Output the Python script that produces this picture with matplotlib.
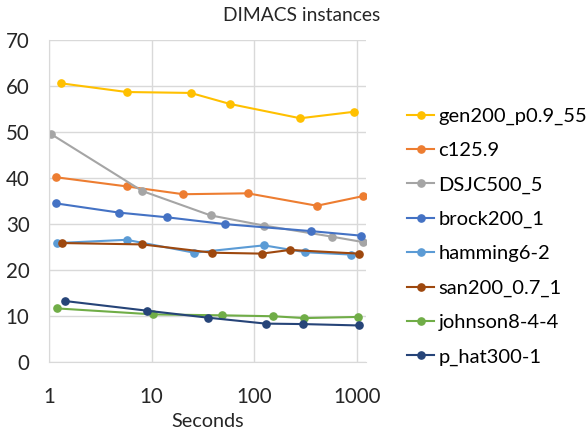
import numpy as np
from matplotlib import pyplot as plt

plt.rcParams['font.family'] = ['Lato', 'DejaVu Sans']

# instancias y tiempos (segundos)
nombres = ["gen200_p0.9_55", "c125.9", "DSJC500_5", "brock200_1",
           "hamming6-2", "san200_0.7_1", "johnson8-4-4", "p_hat300-1"]
colores = ["#FFC000", "#ED7D31", "#A5A5A5", "#4472C4",
           "#5B9BD5", "#9E480E", "#70AD47", "#264478"]

t_gen = [1.3, 5.7, 24, 58, 280, 930]
v_gen = [60.6, 58.7, 58.5, 56.1, 53.0, 54.4]

t_c125 = [1.16, 5.7, 20.3, 86, 407, 1150]
v_c125 = [40.2, 38.2, 36.5, 36.7, 34.0, 36.1]

t_dsjc = [1.04, 8.1, 37.5, 124, 565, 1150]
v_dsjc = [49.6, 37.2, 31.9, 29.7, 27.3, 26.1]

t_brock = [1.18, 4.84, 14.0, 52, 353, 1100]
v_brock = [34.5, 32.5, 31.5, 30.0, 28.5, 27.5]

t_hamming = [1.2, 5.7, 26, 124, 315, 865]
v_hamming = [25.9, 26.6, 23.8, 25.4, 23.9, 23.4]

t_san = [1.33, 8.1, 38.9, 118, 222, 1043]
v_san = [25.9, 25.6, 23.8, 23.6, 24.4, 23.6]

t_johnson = [1.2, 10.4, 48.7, 153, 306, 1028]
v_johnson = [11.7, 10.4, 10.2, 10.0, 9.6, 9.85]

t_phat = [1.44, 9.06, 35, 129, 297, 1043]
v_phat = [13.3, 11.2, 9.7, 8.4, 8.3, 8.0]

tiempos = [t_gen, t_c125, t_dsjc, t_brock, t_hamming, t_san, t_johnson, t_phat]
valores = [v_gen, v_c125, v_dsjc, v_brock, v_hamming, v_san, v_johnson, v_phat]

fig = plt.figure(figsize=(5.87, 4.29), dpi=100)
ax = fig.add_axes([0.0835, 0.1555, 0.54, 0.7513])

for t, v, nombre, c in zip(tiempos, valores, nombres, colores):
    ax.plot(t, v, color=c, lw=1.5, marker='o', ms=5.2, label=nombre)

ax.set_xscale('log')
ax.set_xlim(1, 1224)
ax.set_ylim(0, 70)
ax.set_xticks([1, 10, 100, 1000])
ax.set_xticklabels(["1", "10", "100", "1000"])
ax.set_yticks(range(0, 71, 10))
ax.minorticks_off()
ax.tick_params(axis='both', length=0, labelsize=14.8, colors='#262626')
ax.tick_params(axis='y', pad=14)
ax.tick_params(axis='x', pad=17.5)
ax.grid(True, color='#D9D9D9', lw=1)
ax.set_axisbelow(True)
for lado in ['top', 'right']:
    ax.spines[lado].set_visible(False)
for lado in ['left', 'bottom']:
    ax.spines[lado].set_color('#D9D9D9')
ax.set_xlabel("Seconds", fontsize=14.3, color='#262626', labelpad=4.5)
fig.text(0.514, 0.963, "DIMACS instances", fontsize=13.9, color='#262626',
         ha='center', va='center')

ax.legend(loc='center left', bbox_to_anchor=(1.13, 0.39), frameon=False,
          fontsize=14.5, handlelength=1.35, handletextpad=0.2, labelspacing=0.85,
          borderaxespad=0, borderpad=0)

fig.savefig("out.png", dpi=100)
